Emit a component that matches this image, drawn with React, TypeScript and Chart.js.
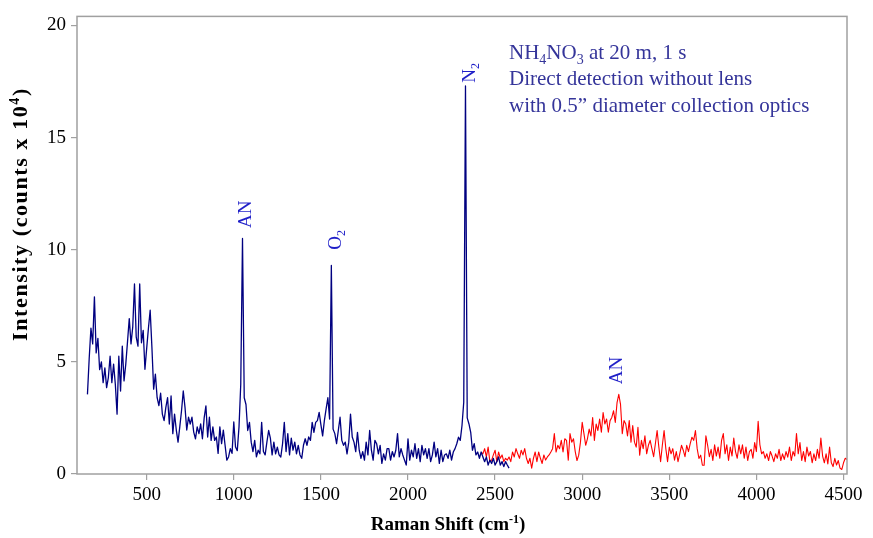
import React, { useEffect, useRef } from "react";
import { Chart, registerables } from "chart.js";

Chart.register(...registerables);

// Raman shift grid (cm-1): start + STEP * index
const STEP = 10;
const BLUE_START = 160;
const RED_START = 2420;

// Intensity (counts x 10^4), blue spectrum 160..2580 cm-1
const BLUE_VALUES = [
  3.55, 5.15, 6.5, 5.8, 7.9, 5.4, 6.05, 4.65, 5.0, 4.07,
  4.73, 3.85, 4.3, 5.25, 4.07, 4.9, 4.0, 2.67, 5.25, 3.7,
  5.7, 4.15, 4.9, 5.9, 6.93, 5.8, 6.56, 8.47, 6.1, 5.7,
  8.47, 5.85, 6.4, 4.67, 5.6, 6.5, 7.3, 5.65, 3.78, 4.45,
  3.4, 3.05, 3.6, 2.67, 2.38, 2.97, 3.4, 2.23, 3.48, 1.8,
  2.67, 1.96, 1.42, 2.1, 2.82, 3.7, 2.97, 1.96, 2.53, 2.23,
  2.53, 1.87, 1.57, 2.1, 1.8, 2.23, 1.57, 2.5, 3.04, 1.65,
  2.53, 1.5, 2.1, 1.5, 1.65, 0.92, 2.1, 1.35, 1.96, 1.28,
  0.62, 0.76, 1.13, 0.92, 2.32, 1.2, 1.04, 2.1, 4.0, 10.5,
  3.4, 3.1, 1.94, 2.3, 1.42, 1.0, 1.5, 0.76, 1.06, 0.9,
  2.3, 1.0, 0.85, 1.42, 1.94, 1.6, 0.85, 1.42, 0.9, 1.2,
  0.85, 0.76, 1.35, 2.3, 1.0, 1.8, 0.85, 1.6, 1.06, 1.42,
  0.9, 1.28, 0.85, 0.7, 1.28, 1.57, 1.28, 1.65, 1.5, 2.3,
  1.86, 2.3, 2.38, 2.75, 2.2, 1.7, 2.38, 2.9, 3.4, 2.45,
  9.3, 2.0, 1.8, 1.35, 1.94, 2.53, 1.5, 1.28, 1.42, 0.9,
  1.42, 2.67, 1.65, 1.42, 1.0, 1.86, 1.06, 0.7, 1.0, 0.62,
  1.42, 0.85, 1.94, 1.06, 0.62, 1.5, 1.35, 0.9, 1.28, 0.47,
  0.9, 0.62, 1.13, 1.13, 0.62, 1.0, 0.76, 1.06, 1.8, 0.76,
  1.13, 0.85, 0.62, 0.4, 1.57, 0.62, 1.06, 0.76, 1.35, 0.7,
  1.13, 0.55, 1.28, 0.85, 1.13, 0.7, 1.13, 0.55, 0.85, 1.42,
  0.76, 1.13, 0.47, 1.06, 0.55, 0.85, 0.9, 0.7, 1.06, 0.62,
  0.98, 1.13, 1.35, 1.64, 1.5, 2.16, 3.2, 17.3, 2.5, 2.23,
  1.86, 1.06, 1.35, 0.85, 0.98, 0.7, 0.98, 0.76, 0.55, 0.76,
  0.4, 0.62, 0.47, 0.7, 0.4, 0.55, 0.76, 0.4, 0.55, 0.33,
  0.55, 0.4, 0.26,
];

// Intensity (counts x 10^4), red spectrum 2420..4520 cm-1
const RED_VALUES = [
  0.98, 0.9, 1.13, 0.76, 1.2, 0.55, 0.62, 0.85, 1.06, 0.55,
  0.98, 0.7, 0.85, 0.55, 0.7, 0.62, 0.76, 0.55, 0.98, 0.76,
  1.13, 0.9, 0.7, 1.06, 0.85, 1.13, 0.7, 0.47, 0.7, 0.26,
  0.7, 0.98, 0.55, 0.98, 0.7, 0.47, 0.85, 0.62, 0.76, 0.85,
  0.98, 1.13, 1.8, 0.98, 1.28, 1.13, 1.5, 0.98, 1.57, 1.5,
  0.62, 1.8, 1.42, 1.57, 1.0, 0.6, 0.84, 1.42, 2.3, 1.8,
  1.28, 1.57, 2.0, 1.7, 2.52, 1.5, 2.23, 1.94, 2.45, 1.86,
  2.74, 2.23, 2.45, 1.86, 2.38, 2.52, 2.82, 2.3, 3.18, 3.55,
  3.1, 1.8, 2.38, 2.23, 1.7, 2.38, 1.42, 2.16, 1.42, 1.2,
  2.08, 0.84, 1.5, 1.13, 1.7, 0.9, 1.28, 1.5, 1.13, 0.77,
  1.35, 1.94, 1.2, 0.55, 1.28, 1.94, 1.13, 0.55, 1.2, 0.9,
  1.13, 0.62, 1.0, 0.55, 0.9, 1.28, 1.06, 0.77, 1.28, 1.0,
  1.35, 1.64, 1.5, 1.94, 1.13, 0.69, 0.84, 0.39, 0.39, 1.7,
  1.28, 0.77, 1.1, 0.6, 1.3, 0.8, 1.2, 0.7, 1.5, 1.8,
  0.9, 1.3, 0.6, 1.2, 0.8, 1.6, 1.0, 0.7, 1.3, 0.9,
  1.3, 0.7, 1.2, 0.6, 1.0, 1.1, 0.7, 1.4, 1.0, 2.35,
  1.3, 0.9, 1.0, 0.7, 0.9, 0.6, 1.0, 0.8, 0.55, 0.9,
  0.7, 1.1, 0.6, 0.9, 0.65, 1.0, 0.75, 1.2, 0.6, 1.0,
  0.8, 1.8, 0.9, 1.4, 0.6, 1.0, 0.55, 1.2, 0.8, 1.0,
  0.5, 0.9, 0.6, 1.1, 0.7, 1.6, 0.8, 0.5, 0.9, 0.45,
  1.2, 0.5, 0.33, 0.7, 0.4, 0.6, 0.26, 0.2, 0.5, 0.7,
  0.65,
];

const X_MIN = 100;
const X_MAX = 4520;
const Y_MIN = 0;
const Y_MAX = 20.4;
const X_TICKS = [500, 1000, 1500, 2000, 2500, 3000, 3500, 4000, 4500];
const Y_TICKS = [0, 5, 10, 15, 20];

const X_TITLE = "Raman Shift (cm";
const X_TITLE_SUP = "-1";
const Y_TITLE = "Intensity (counts x 10";
const Y_TITLE_SUP = "4";

// Peak labels: [main text, subscript, x (cm-1), y where text starts]
const PEAK_LABELS: [string, string, number, number][] = [
  ["AN", "", 1060, 10.97],
  ["O", "2", 1579, 10.0],
  ["N", "2", 2345, 17.44],
  ["AN", "", 3192, 4.0],
];

type Seg = { t: string; sub?: boolean; sup?: boolean };
const NOTE_LINES: Seg[][] = [
  [{ t: "NH" }, { t: "4", sub: true }, { t: "NO" }, { t: "3", sub: true }, { t: " at 20 m, 1 s" }],
  [{ t: "Direct detection without lens" }],
  [{ t: "with 0.5\u201D diameter collection optics" }],
];

const SERIF = "'Liberation Serif', 'Times New Roman', serif";
const BLUE = "#000080";
const RED = "#ff0000";
const FRAME = "#a0a0a0";
const NOTE_COLOR = "#35359a";
const LABEL_COLOR = "#1f1fc8";

function toPoints(start: number, values: number[]) {
  return values.map((v, i) => ({ x: start + STEP * i, y: v }));
}

function drawSegs(ctx: CanvasRenderingContext2D, segs: Seg[], x: number, y: number, size: number, weight: string) {
  let cx = x;
  for (const s of segs) {
    const small = s.sub || s.sup;
    const fs = small ? Math.round(size * 0.65) : size;
    ctx.font = `${weight} ${fs}px ${SERIF}`;
    const dy = s.sub ? size * 0.22 : s.sup ? -size * 0.38 : 0;
    ctx.fillText(s.t, cx, y + dy);
    cx += ctx.measureText(s.t).width;
  }
  return cx - x;
}

function measureSegs(ctx: CanvasRenderingContext2D, segs: Seg[], size: number, weight: string) {
  let w = 0;
  for (const s of segs) {
    const fs = s.sub || s.sup ? Math.round(size * 0.65) : size;
    ctx.font = `${weight} ${fs}px ${SERIF}`;
    w += ctx.measureText(s.t).width;
  }
  return w;
}

const decorPlugin = {
  id: "decor",
  afterDatasetsDraw(chart: any) {
    const ctx: CanvasRenderingContext2D = chart.ctx;
    const { left, top, right, bottom } = chart.chartArea;
    const xs = chart.scales.x;
    const ys = chart.scales.y;
    ctx.save();
    // frame
    ctx.strokeStyle = FRAME;
    ctx.lineWidth = 1.5;
    ctx.strokeRect(left, top, right - left, bottom - top);

    // note
    ctx.fillStyle = NOTE_COLOR;
    ctx.textBaseline = "alphabetic";
    ctx.textAlign = "left";
    NOTE_LINES.forEach((line, i) => {
      drawSegs(ctx, line, 509, 59 + i * 26.3, 21, "normal");
    });

    // peak labels
    ctx.fillStyle = LABEL_COLOR;
    for (const [main, sub, px, py] of PEAK_LABELS) {
      const x = xs.getPixelForValue(px);
      const y = ys.getPixelForValue(py);
      ctx.save();
      ctx.translate(x, y);
      ctx.rotate(-Math.PI / 2);
      const segs: Seg[] = [{ t: main }];
      if (sub) segs.push({ t: sub, sub: true });
      drawSegs(ctx, segs, 0, 6.5, 19, "normal");
      ctx.restore();
    }

    // axis titles
    ctx.fillStyle = "#000";
    const xt: Seg[] = [{ t: X_TITLE }, { t: X_TITLE_SUP, sup: true }, { t: ")" }];
    const xw = measureSegs(ctx, xt, 19, "bold");
    drawSegs(ctx, xt, 448 - xw / 2, 530, 19, "bold");

    const yt: Seg[] = [{ t: Y_TITLE }, { t: Y_TITLE_SUP, sup: true }, { t: ")" }];
    ctx.save();
    (ctx as any).letterSpacing = "1.6px";
    const yw = measureSegs(ctx, yt, 22, "bold");
    ctx.translate(27, 214);
    ctx.rotate(-Math.PI / 2);
    drawSegs(ctx, yt, -yw / 2, 0, 22, "bold");
    ctx.restore();

    ctx.restore();
  },
};

export default function App() {
  const ref = useRef<HTMLCanvasElement | null>(null);
  useEffect(() => {
    if (!ref.current) return;
    const chart = new Chart(ref.current, {
      type: "line",
      data: {
        datasets: [
          {
            data: toPoints(BLUE_START, BLUE_VALUES),
            borderColor: BLUE,
            borderWidth: 1.3,
            pointRadius: 0,
            borderJoinStyle: "round",
            tension: 0,
          },
          {
            data: toPoints(RED_START, RED_VALUES),
            borderColor: RED,
            borderWidth: 1.1,
            pointRadius: 0,
            borderJoinStyle: "round",
            tension: 0,
          },
        ],
      },
      options: {
        animation: false,
        responsive: false,
        devicePixelRatio: 1,
        parsing: false,
        normalized: true,
        layout: { padding: { top: 11, right: 26, left: 0, bottom: 0 } },
        plugins: { legend: { display: false }, tooltip: { enabled: false }, title: { display: false } },
        events: [],
        scales: {
          x: {
            type: "linear",
            min: X_MIN,
            max: X_MAX,
            afterBuildTicks: (s: any) => {
              s.ticks = X_TICKS.map((v) => ({ value: v }));
            },
            afterFit: (s: any) => {
              s.height = 64;
            },
            grid: { drawOnChartArea: false, drawTicks: true, tickLength: 6, color: FRAME, lineWidth: 1.2 },
            border: { display: false },
            ticks: {
              color: "#000",
              font: { family: SERIF, size: 19 },
              padding: 4,
              maxRotation: 0,
              autoSkip: false,
              callback: (v: any) => String(v),
            },
          },
          y: {
            type: "linear",
            min: Y_MIN,
            max: Y_MAX,
            afterBuildTicks: (s: any) => {
              s.ticks = Y_TICKS.map((v) => ({ value: v }));
            },
            afterFit: (s: any) => {
              s.width = 77;
            },
            grid: { drawOnChartArea: false, drawTicks: true, tickLength: 6, color: FRAME, lineWidth: 1.2 },
            border: { display: false },
            ticks: {
              color: "#000",
              font: { family: SERIF, size: 19 },
              padding: 5,
              autoSkip: false,
              callback: (v: any) => String(v),
            },
          },
        },
      },
      plugins: [decorPlugin],
    } as any);
    return () => chart.destroy();
  }, []);

  return (
    <div style={{ position: "absolute", left: 0, top: 0, width: 873, height: 538, background: "#fff" }}>
      <canvas ref={ref} width={873} height={538} style={{ width: 873, height: 538, display: "block" }} />
    </div>
  );
}
